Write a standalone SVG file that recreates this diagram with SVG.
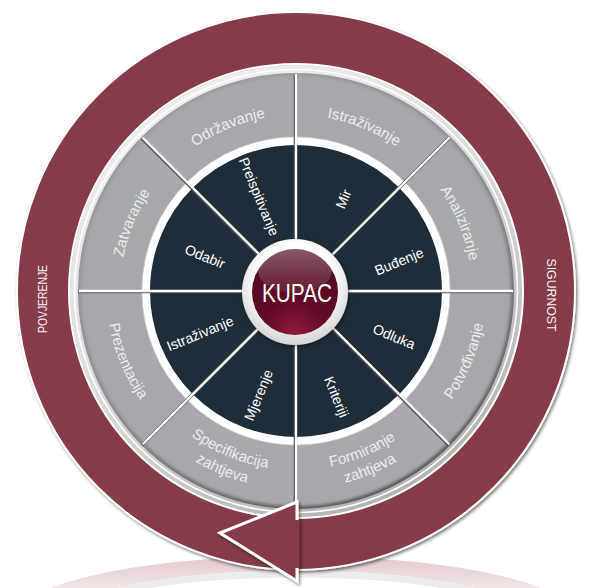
<svg xmlns="http://www.w3.org/2000/svg" xmlns:xlink="http://www.w3.org/1999/xlink" width="591" height="588" viewBox="0 0 591 588">
  <defs>
    <style>
      .gseg { fill: #a7a8ab; }
      .dseg { fill: #1f2d38; }
      .gl { font-family: "Liberation Sans", Arial, sans-serif; font-size: 15px; fill: #ededef; text-anchor: middle; }
      .dl { font-family: "Liberation Sans", Arial, sans-serif; font-size: 14px; fill: #ffffff; text-anchor: middle; }
      .rl { font-family: "Liberation Sans", Arial, sans-serif; font-size: 13.5px; fill: #f7eef0; text-anchor: middle; }
      .spoke-shadow { stroke: #505054; stroke-width: 3.4; fill: none; }
      .spoke { stroke: #ffffff; stroke-width: 2.3; fill: none; }
    </style>

    <!-- baseline arcs around the wheel centre (0,0) -->
    <path id="arc-cw-176" d="M-152.4,-88 A176,176 0 0 1 152.4,-88"/>
    <path id="arc-ccw-190" d="M-164.5,95 A190,190 0 0 0 164.5,95"/>
    <path id="arc-ccw-179" d="M-155,89.5 A179,179 0 0 0 155,89.5"/>
    <path id="arc-ccw-198" d="M-171.5,99 A198,198 0 0 0 171.5,99"/>

    <!-- eight spokes from the hub to the wheel rim -->
    <g id="spokes">
      <line x1="296" y1="239" x2="296" y2="74"/>
      <line x1="332.8" y1="254.2" x2="449.4" y2="137.6"/>
      <line x1="348" y1="291" x2="513" y2="291"/>
      <line x1="332.8" y1="327.8" x2="449.4" y2="444.4"/>
      <line x1="296" y1="343" x2="296" y2="506"/>
      <line x1="259.2" y1="327.8" x2="142.6" y2="444.4"/>
      <line x1="244" y1="291" x2="79" y2="291"/>
      <line x1="259.2" y1="254.2" x2="142.6" y2="137.6"/>
    </g>

    <linearGradient id="rimGrad" x1="0" y1="0" x2="0.6" y2="1">
      <stop offset="0" stop-color="#f6f6f7"/>
      <stop offset="0.55" stop-color="#dcdcde"/>
      <stop offset="1" stop-color="#b4b4b7"/>
    </linearGradient>
    <linearGradient id="edgeShade" x1="0.2" y1="0" x2="0.8" y2="1">
      <stop offset="0" stop-color="#6a6a6e" stop-opacity="0.15"/>
      <stop offset="0.5" stop-color="#5a5a5e" stop-opacity="0.35"/>
      <stop offset="1" stop-color="#3e3e42" stop-opacity="0.85"/>
    </linearGradient>
    <radialGradient id="hubRing" cx="50%" cy="40%" r="60%">
      <stop offset="0.6" stop-color="#ffffff"/>
      <stop offset="1" stop-color="#d4d4d6"/>
    </radialGradient>
    <radialGradient id="hubBall" cx="50%" cy="90%" r="80%" fx="50%" fy="100%">
      <stop offset="0" stop-color="#8e1c3c"/>
      <stop offset="0.45" stop-color="#620a27"/>
      <stop offset="1" stop-color="#520a22"/>
    </radialGradient>
    <linearGradient id="hubGloss" x1="0" y1="0" x2="0" y2="1">
      <stop offset="0" stop-color="#ffffff" stop-opacity="0.32"/>
      <stop offset="1" stop-color="#ffffff" stop-opacity="0.06"/>
    </linearGradient>
    <linearGradient id="reflGrad" x1="0" y1="556" x2="0" y2="588" gradientUnits="userSpaceOnUse">
      <stop offset="0" stop-color="#e2c9cc"/>
      <stop offset="1" stop-color="#f1e6e7"/>
    </linearGradient>

    <filter id="ringShadow" x="-10%" y="-10%" width="120%" height="120%">
      <feDropShadow dx="1.5" dy="2" stdDeviation="1.6" flood-color="#000000" flood-opacity="0.5"/>
    </filter>
    <filter id="softShadow" x="-20%" y="-20%" width="140%" height="140%">
      <feDropShadow dx="1" dy="1.5" stdDeviation="2" flood-color="#000000" flood-opacity="0.45"/>
    </filter>
    <filter id="blur2" x="-10%" y="-10%" width="120%" height="120%">
      <feGaussianBlur stdDeviation="1.6"/>
    </filter>
    <clipPath id="wheelClip">
      <circle cx="296" cy="291" r="218"/>
    </clipPath>
  </defs>

  <rect width="591" height="588" fill="#ffffff"/>

  <!-- faint mirror image of the ring below -->
  <g id="reflection">
    <path d="M16,618 A280,62 0 0 1 576,618 L528,618 A232,47 0 0 0 64,618 Z" fill="url(#reflGrad)"/>
    <path d="M72,618 A224,44 0 0 1 520,618" fill="none" stroke="#ececed" stroke-width="7"/>
  </g>

  <!-- circular arrow ring -->
  <g id="cycle" filter="url(#ringShadow)">
    <path d="M17,291 A279,279 0 1 0 575,291 A279,279 0 1 0 17,291 Z M69,291 A227,227 0 1 1 523,291 A227,227 0 1 1 69,291 Z"
          fill="#853b48" fill-rule="evenodd" stroke="#ffffff" stroke-width="2"/>
  </g>

  <!-- wheel rim -->
  <g id="wheel">
    <circle cx="296" cy="291" r="226" fill="url(#rimGrad)"/>
    <circle cx="296" cy="291" r="221.5" fill="none" stroke="#ffffff" stroke-width="1.6"/>
  </g>

  <!-- outer tier -->
  <g id="outer-istrazivanje">
    <path class="gseg" d="M296,73 A218,218 0 0 1 450.15,136.85 L402.07,184.93 A150,150 0 0 0 296,141 Z"/>
    <g transform="translate(296,291) rotate(22.5)"><text class="gl"><textPath xlink:href="#arc-cw-176" startOffset="50%">Istraživanje</textPath></text></g>
  </g>
  <g id="outer-analiziranje">
    <path class="gseg" d="M450.15,136.85 A218,218 0 0 1 514,291 L446,291 A150,150 0 0 0 402.07,184.93 Z"/>
    <g transform="translate(296,291) rotate(67.5)"><text class="gl"><textPath xlink:href="#arc-cw-176" startOffset="50%">Analiziranje</textPath></text></g>
  </g>
  <g id="outer-potvrdivanje">
    <path class="gseg" d="M514,291 A218,218 0 0 1 450.15,445.15 L402.07,397.07 A150,150 0 0 0 446,291 Z"/>
    <g transform="translate(296,291) rotate(-67.5)"><text class="gl"><textPath xlink:href="#arc-ccw-190" startOffset="50%">Potvrđivanje</textPath></text></g>
  </g>
  <g id="outer-formiranje">
    <path class="gseg" d="M450.15,445.15 A218,218 0 0 1 296,509 L296,441 A150,150 0 0 0 402.07,397.07 Z"/>
    <g transform="translate(296,291) rotate(-22.5)">
      <text class="gl"><textPath xlink:href="#arc-ccw-179" startOffset="50%">Formiranje</textPath></text>
      <text class="gl"><textPath xlink:href="#arc-ccw-198" startOffset="50%">zahtjeva</textPath></text>
    </g>
  </g>
  <g id="outer-specifikacija">
    <path class="gseg" d="M296,509 A218,218 0 0 1 141.85,445.15 L189.93,397.07 A150,150 0 0 0 296,441 Z"/>
    <g transform="translate(296,291) rotate(22.5)">
      <text class="gl"><textPath xlink:href="#arc-ccw-179" startOffset="50%">Specifikacija</textPath></text>
      <text class="gl"><textPath xlink:href="#arc-ccw-198" startOffset="50%">zahtjeva</textPath></text>
    </g>
  </g>
  <g id="outer-prezentacija">
    <path class="gseg" d="M141.85,445.15 A218,218 0 0 1 78,291 L146,291 A150,150 0 0 0 189.93,397.07 Z"/>
    <g transform="translate(296,291) rotate(67.5)"><text class="gl"><textPath xlink:href="#arc-ccw-190" startOffset="50%">Prezentacija</textPath></text></g>
  </g>
  <g id="outer-zatvaranje">
    <path class="gseg" d="M78,291 A218,218 0 0 1 141.85,136.85 L189.93,184.93 A150,150 0 0 0 146,291 Z"/>
    <g transform="translate(296,291) rotate(-67.5)"><text class="gl"><textPath xlink:href="#arc-cw-176" startOffset="50%">Zatvaranje</textPath></text></g>
  </g>
  <g id="outer-odrzavanje">
    <path class="gseg" d="M141.85,136.85 A218,218 0 0 1 296,73 L296,141 A150,150 0 0 0 189.93,184.93 Z"/>
    <g transform="translate(296,291) rotate(-22.5)"><text class="gl"><textPath xlink:href="#arc-cw-176" startOffset="50%">Održavanje</textPath></text></g>
  </g>

  <!-- shadow cast by the rim onto the outer tier -->
  <g clip-path="url(#wheelClip)">
    <circle cx="296" cy="291" r="218" fill="none" stroke="url(#edgeShade)" stroke-width="6" filter="url(#blur2)"/>
  </g>

  <!-- inner tier -->
  <g id="inner-mir">
    <path class="dseg" d="M296,141 A150,150 0 0 1 402.07,184.93 L329.94,257.06 A48,48 0 0 0 296,243 Z"/>
    <text class="dl" dy="0.35em" transform="translate(343.5,199) rotate(-67.5)">Mir</text>
  </g>
  <g id="inner-budenje">
    <path class="dseg" d="M402.07,184.93 A150,150 0 0 1 446,291 L344,291 A48,48 0 0 0 329.94,257.06 Z"/>
    <text class="dl" dy="0.35em" transform="translate(399,261.5) rotate(-22.5)">Buđenje</text>
  </g>
  <g id="inner-odluka">
    <path class="dseg" d="M446,291 A150,150 0 0 1 402.07,397.07 L329.94,324.94 A48,48 0 0 0 344,291 Z"/>
    <text class="dl" dy="0.35em" transform="translate(394,336.5) rotate(22.5)">Odluka</text>
  </g>
  <g id="inner-kriteriji">
    <path class="dseg" d="M402.07,397.07 A150,150 0 0 1 296,441 L296,339 A48,48 0 0 0 329.94,324.94 Z"/>
    <text class="dl" dy="0.35em" transform="translate(336.5,397) rotate(67.5)">Kriteriji</text>
  </g>
  <g id="inner-mjerenje">
    <path class="dseg" d="M296,441 A150,150 0 0 1 189.93,397.07 L262.06,324.94 A48,48 0 0 0 296,339 Z"/>
    <text class="dl" dy="0.35em" transform="translate(258.5,395) rotate(-67.5)">Mjerenje</text>
  </g>
  <g id="inner-istrazivanje">
    <path class="dseg" d="M189.93,397.07 A150,150 0 0 1 146,291 L248,291 A48,48 0 0 0 262.06,324.94 Z"/>
    <text class="dl" dy="0.35em" transform="translate(200,333.5) rotate(-22.5)">Istraživanje</text>
  </g>
  <g id="inner-odabir">
    <path class="dseg" d="M146,291 A150,150 0 0 1 189.93,184.93 L262.06,257.06 A48,48 0 0 0 248,291 Z"/>
    <text class="dl" dy="0.35em" transform="translate(205,256.5) rotate(22.5)">Odabir</text>
  </g>
  <g id="inner-preispitivanje">
    <path class="dseg" d="M189.93,184.93 A150,150 0 0 1 296,141 L296,243 A48,48 0 0 0 262.06,257.06 Z"/>
    <text class="dl" dy="0.35em" transform="translate(259,196.5) rotate(67.5)">Preispitivanje</text>
  </g>

  <!-- white band between the two tiers -->
  <circle cx="296" cy="291" r="150" fill="none" stroke="#ffffff" stroke-width="8"/>
  <circle cx="296" cy="291" r="154.2" fill="none" stroke="#c9c9cc" stroke-width="0.8"/>

  <!-- spokes -->
  <g id="connectors">
    <use xlink:href="#spokes" class="spoke-shadow" transform="translate(-0.6,0.6)"/>
    <use xlink:href="#spokes" class="spoke"/>
  </g>

  <!-- arrow head over the start of the ring -->
  <g id="arrow-head" filter="url(#ringShadow)">
    <polygon points="220,533 297,502 297,581" fill="#853b48" stroke="#ffffff" stroke-width="3" stroke-linejoin="miter"/>
    <rect x="294.5" y="520" width="5" height="48" fill="#853b48"/>
  </g>

  <!-- ring labels -->
  <text class="rl" transform="translate(47,299) rotate(-90)" textLength="68" lengthAdjust="spacingAndGlyphs">POVJERENJE</text>
  <text class="rl" transform="translate(547,295) rotate(90)" textLength="73" lengthAdjust="spacingAndGlyphs">SIGURNOST</text>

  <!-- hub -->
  <g id="kupac">
    <circle cx="295" cy="292" r="53" fill="url(#hubRing)" filter="url(#softShadow)"/>
    <circle cx="295" cy="292" r="43" fill="url(#hubBall)"/>
    <ellipse cx="295" cy="271" rx="37" ry="22" fill="url(#hubGloss)"/>
    <text x="297" y="302" font-family="'Liberation Sans', Arial, sans-serif" font-size="26" fill="#ffffff" text-anchor="middle" textLength="70" lengthAdjust="spacingAndGlyphs">KUPAC</text>
  </g>
</svg>
